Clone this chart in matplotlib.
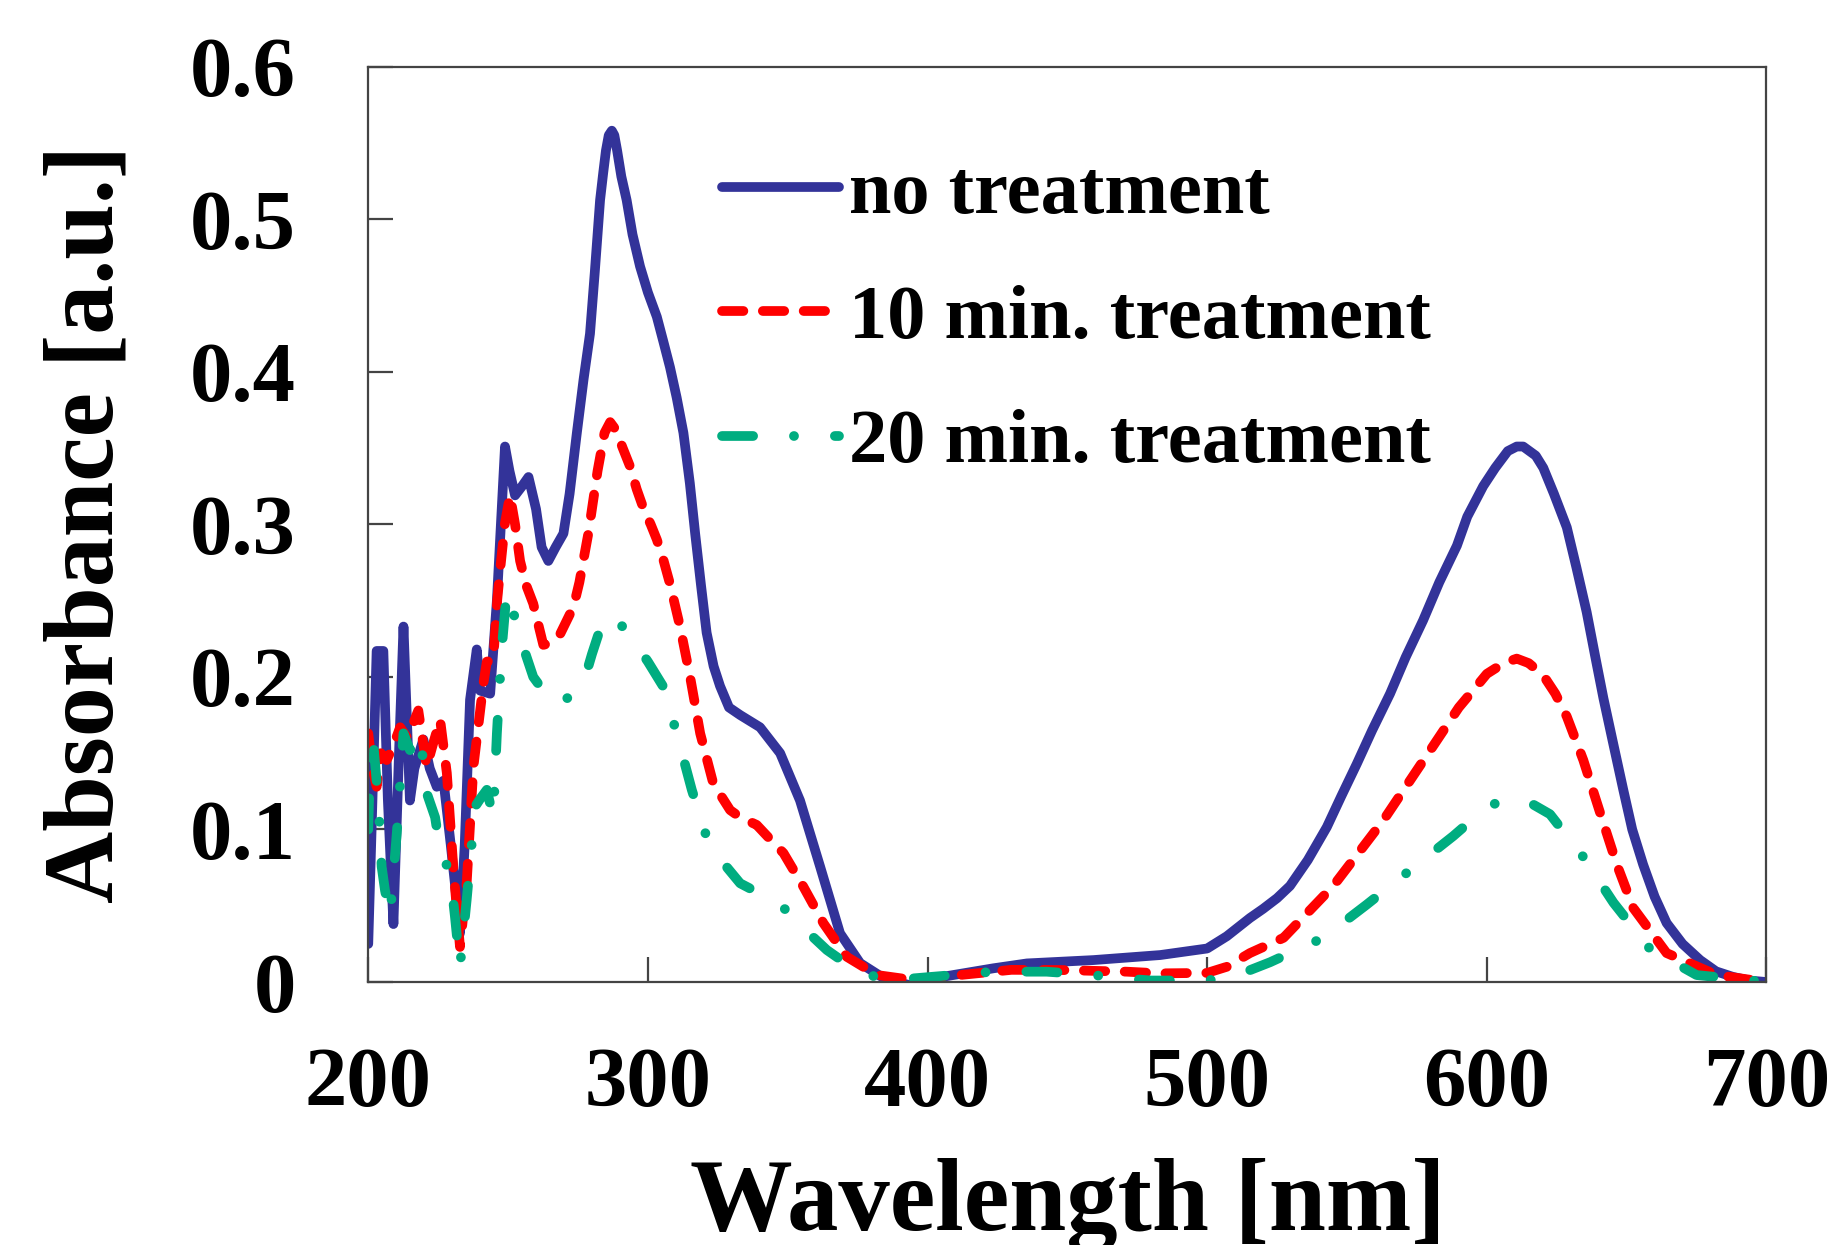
import numpy as np
import matplotlib
matplotlib.use("Agg")
import matplotlib.pyplot as plt

plt.rcParams['font.family'] = ['Liberation Serif', 'DejaVu Serif']
plt.rcParams['font.weight'] = 'bold'

# --- no treatment
wl_none = [200, 201.2, 203, 205.4, 207, 209, 211, 212.6, 214.9, 216.5, 219.7, 222,
           224.5, 226.9, 229.5, 231.6, 232.8, 234.5, 236.4, 238.8, 240, 243.6, 246,
           248.9, 250.5, 252.5, 255, 257.3, 260, 262, 264.4, 267, 269.8, 272, 274.6,
           277, 279.3, 281, 282.9, 284, 285, 286, 287.1, 288, 289, 290.5, 292.4, 294.5,
           297.2, 300, 303.2, 305.5, 307.9, 310.3, 312.7, 315, 316.9, 319, 321, 323.5,
           325.8, 329, 333, 340.1, 347.3, 354.4, 361.6, 368.7, 375.9,
           385.4, 393.7, 405.6, 423.5, 435.5, 459.3, 483.2, 500, 507, 515.3, 520, 525,
           529.6, 536, 542.8, 548, 553.5, 559, 565.4, 571, 577.2, 583, 589.3, 593, 598.7,
           603, 607.5, 610.7, 613, 617.5, 620.2, 624, 628.6, 632, 635.7, 638.7, 641.7,
           645, 648.8, 652, 655.9, 660, 664.3, 670, 676.3, 682, 688, 694, 700]
abs_none = [0.025, 0.10, 0.217, 0.217, 0.12, 0.038, 0.15, 0.233, 0.119, 0.14, 0.159, 0.14,
            0.128, 0.132, 0.09, 0.054, 0.032, 0.09, 0.185, 0.218, 0.191, 0.189, 0.25,
            0.351, 0.335, 0.319, 0.325, 0.331, 0.31, 0.285, 0.276, 0.285, 0.294, 0.32, 0.36,
            0.395, 0.425, 0.465, 0.5125, 0.53, 0.545, 0.555, 0.558, 0.555, 0.545, 0.528, 0.5125, 0.49,
            0.469, 0.452, 0.436, 0.42, 0.403, 0.383, 0.36, 0.327, 0.294, 0.26, 0.229, 0.207,
            0.194, 0.18, 0.175, 0.167, 0.150, 0.119, 0.0756, 0.032, 0.0124,
            0.0013, -0.002, 0.0035, 0.009, 0.0122, 0.0144, 0.0177, 0.022, 0.03, 0.042, 0.048, 0.055,
            0.063, 0.08, 0.1016, 0.122, 0.143, 0.165, 0.189, 0.213, 0.237, 0.262, 0.286, 0.305, 0.325,
            0.337, 0.348, 0.351, 0.351, 0.345, 0.337, 0.32, 0.298, 0.272, 0.2425, 0.214, 0.186,
            0.158, 0.126, 0.100, 0.077, 0.056, 0.0387, 0.025, 0.0144, 0.007, 0.0034, 0.001, 0.0]

# --- 10 min. treatment
wl_10 = [200, 201.5, 203, 204.5, 206.6, 209, 211.4, 214, 217.9, 220.9, 223, 225.7,
         228.1, 230.4, 232.8, 235.2, 237.6, 241.2, 242.4, 244.7, 246.1, 247.1, 248.9,
         250.7, 252.5, 254.3, 256.5, 259, 262.6, 265, 268.6, 273.4, 275.5, 278.7, 282, 284.5,
         286.5, 288.5, 291, 293.6, 296, 298.5, 301, 303.2, 305.5, 307.9, 311.5, 315.1, 318.7,
         323.4, 329.4, 333, 338.9, 343, 348.5, 355.6, 362.8, 371.1, 381.9, 395, 411.6, 430, 447.4,
         471.2, 483.2, 500, 507, 515.3, 527.3, 545.1, 563, 580.9, 590, 596.4, 600, 606, 610.7,
         615, 620.2, 624.5, 628.6, 634.5, 640.5, 646.5, 652.4, 664.3, 682.2, 700]
abs_10 = [0.163, 0.14, 0.128, 0.15, 0.1455, 0.155, 0.167, 0.16, 0.178, 0.141, 0.155, 0.172,
          0.137, 0.0756, 0.023, 0.065, 0.141, 0.196, 0.21, 0.211, 0.25, 0.269, 0.301,
          0.319, 0.30, 0.276, 0.26, 0.248, 0.221, 0.222, 0.228, 0.246, 0.262, 0.294, 0.335, 0.36,
          0.367, 0.362, 0.35, 0.338, 0.323, 0.31, 0.30, 0.29, 0.277, 0.261, 0.233, 0.20, 0.163,
          0.130, 0.1127, 0.108, 0.103, 0.095, 0.0845, 0.0625, 0.0385, 0.0166, 0.0046, 0.0013, 0.0046,
          0.008, 0.0079, 0.0068, 0.0057, 0.006, 0.01, 0.019, 0.029, 0.063, 0.106, 0.155, 0.18, 0.194,
          0.202, 0.209, 0.212, 0.209, 0.201, 0.189, 0.174, 0.1455, 0.111, 0.077, 0.0485, 0.019, 0.0046, 0.0]

# --- 20 min. treatment
wl_20 = [200, 200.6, 201.5, 203.6, 204.8, 206, 207.8, 210.2, 212.6, 214.9, 218.5, 220.9,
         223.9, 225.7, 229.3, 231, 232.8, 235.2, 238.2, 240, 242.4, 244.7, 246, 247.7,
         249.5, 251.5, 254.3, 259, 263, 267.4, 272, 276.9, 280, 284.1, 287, 290, 294,
         300, 305.5, 310.3, 315.7, 321, 327, 333, 340, 349.7, 357, 364, 375.9, 387.8,
         402.1, 423.5, 442.6, 459.3, 468.8, 480, 500, 510, 522.5, 541.5, 557, 573.7,
         588, 598.7, 604, 609.5, 615, 622.6, 634.5, 645.3, 658.4, 675, 700]
abs_20 = [0.10, 0.141, 0.163, 0.119, 0.0756, 0.06, 0.043, 0.0975, 0.163, 0.152, 0.163, 0.124,
          0.108, 0.0865, 0.0713, 0.043, 0.01, 0.054, 0.115, 0.12, 0.126, 0.108, 0.163, 0.2176,
          0.256, 0.245, 0.2258, 0.20, 0.19, 0.182, 0.187, 0.1956, 0.215, 0.238, 0.24, 0.235, 0.226,
          0.21, 0.1936, 0.163, 0.126, 0.095, 0.078, 0.0647, 0.058, 0.047, 0.033, 0.021, 0.0057, 0.0013,
          0.0035, 0.0068, 0.0068, 0.0046, 0.0026, 0.001, 0.001, 0.004, 0.013, 0.029, 0.0507, 0.075,
          0.0957, 0.1127, 0.118, 0.12, 0.118, 0.110, 0.082, 0.052, 0.0216, 0.0046, 0.0]

labels = ['no treatment', '10 min. treatment', '20 min. treatment']
xticks = [200, 300, 400, 500, 600, 700]
yticks = [0, 0.1, 0.2, 0.3, 0.4, 0.5, 0.6]
yticklabels = ['0', '0.1', '0.2', '0.3', '0.4', '0.5', '0.6']

fig = plt.figure(figsize=(18.33, 12.45), dpi=100)
ax = fig.add_axes([0.2009, 0.2112, 0.7628, 0.7353])

lw = 7
ax.plot(wl_none, abs_none, color='#333399', lw=lw, solid_capstyle='round',
        solid_joinstyle='round', label=labels[0])
ax.plot(wl_10, abs_10, color='#ff0000', lw=lw, dashes=(2.2, 2.0),
        dash_capstyle='round', dash_joinstyle='round', label=labels[1])
ax.plot(wl_20, abs_20, color='#00ad80', lw=lw, dashes=(3.2, 4.2, 0.01, 4.2),
        dash_capstyle='round', dash_joinstyle='round', label=labels[2])

ax.set_xlim(200, 700)
ax.set_ylim(0, 0.6)
ax.set_xticks(xticks)
ax.set_yticks(yticks)
ax.set_yticklabels(yticklabels)

for s in ax.spines.values():
    s.set_color('#444444')
    s.set_linewidth(1.6)
ax.tick_params(direction='in', length=18, width=1.6, color='#444444',
               labelsize=61, top=False, right=False)
ax.tick_params(axis='x', pad=47)
ax.tick_params(axis='y', pad=52)

ax.set_xlabel('Wavelength [nm]', fontsize=74, fontweight='bold')
ax.set_ylabel('Absorbance [a.u.]', fontsize=72, fontweight='bold')
ax.xaxis.set_label_coords(0.5, -0.192)
ax.yaxis.set_label_coords(-0.168, 0.5)

leg = ax.legend(loc='upper left', bbox_to_anchor=(0.2528, 0.898), frameon=False,
                fontsize=55, handlelength=1.53, handletextpad=0.13, labelspacing=0.72,
                borderpad=0, borderaxespad=0)

fig.savefig('out.png', dpi=100)
